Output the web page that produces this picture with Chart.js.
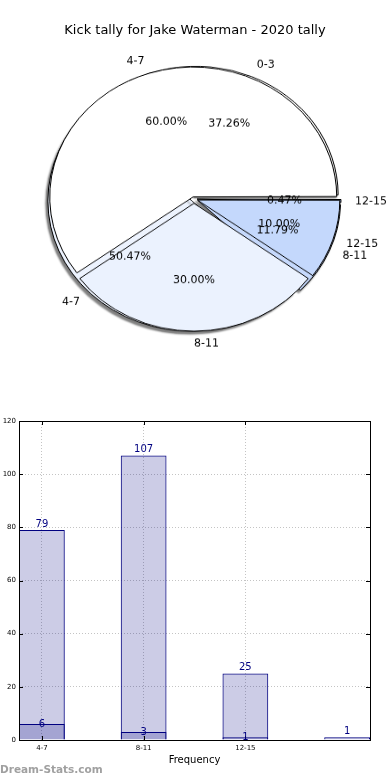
<!DOCTYPE html>
<html>
<head>
<meta charset="utf-8">
<script src="https://cdn.jsdelivr.net/npm/chart.js@4.4.1/dist/chart.umd.min.js"></script>
<style>
body { margin: 0; background: #fff; font-family: "DejaVu Sans", sans-serif; }
#wrap { position: relative; width: 390px; height: 780px; overflow: hidden; }
.pie { position: absolute; left: 0; top: 19px; transform: scaleY(0.905); transform-origin: 50% 50%; }
#pieA { z-index: 1; }
#pieB { z-index: 2; }
#bars { position: absolute; left: 0; top: 410px; }
#title { position: absolute; left: 0; top: 22px; width: 390px; text-align: center; font-size: 13px; line-height: 16px; z-index: 3; }
#mark { position: absolute; left: 0; top: 763px; font-size: 10.5px; font-weight: bold; color: #a0a0a0; z-index: 3; }
</style>
</head>
<body>
<div id="wrap">
    <div id="title">Kick tally for Jake Waterman - 2020 tally</div>
    <canvas id="pieA" class="pie" width="388" height="360"></canvas>
    <canvas id="pieB" class="pie" width="388" height="360"></canvas>
    <canvas id="bars" width="390" height="370"></canvas>
    <div id="mark">Dream-Stats.com</div>
</div>
<script>
// pie data (matplotlib order: counter-clockwise from 3 o'clock)
const allLabels = ['0-3', '4-7', '8-11', '12-15'];
const allCounts = [79, 107, 25, 1];
const seasonLabels = ['4-7', '8-11', '12-15'];
const seasonCounts = [6, 3, 1];

// bar data
const barLabels = ['4-7', '8-11', '12-15', ''];
const barTotals = [79, 107, 25, 1];
const barSeason = [6, 3, 1, null];

const ELLIPSE = 0.905;
const RADIUS = 141;

// chart.js moves an arc by offset/4*(1+fix); get an even shift in px
function explode(values, shift) {
    const total = values.reduce((a, b) => a + b, 0);
    return values.map(function(v) {
        const circ = v / total * 2 * Math.PI;
        const fix = 1 - Math.sin(Math.min(Math.PI, circ));
        return 4 * shift / (1 + fix);
    });
}

function rev(arr) { return arr.slice().reverse(); }

function drawText(ctx, text, x, y, align) {
    ctx.save();
    ctx.translate(x, y);
    ctx.scale(1, 1 / ELLIPSE);
    ctx.textAlign = align;
    ctx.textBaseline = 'middle';
    ctx.fillText(text, 0, 0);
    ctx.restore();
}

function drawPieLabels(ctx, chart) {
    const meta = chart.getDatasetMeta(0);
    const values = chart.data.datasets[0].data;
    const total = values.reduce((a, b) => a + b, 0);
    ctx.font = '11px "DejaVu Sans"';
    ctx.fillStyle = '#000';
    meta.data.forEach(function(arc, i) {
        const mid = (arc.startAngle + arc.endAngle) / 2;
        const circ = arc.endAngle - arc.startAngle;
        const fix = 1 - Math.sin(Math.min(Math.PI, circ));
        const e = (arc.options.offset || 0) / 4 * (1 + fix);
        const cx = Math.cos(mid), cy = Math.sin(mid);
        const r = arc.outerRadius;
        drawText(ctx, chart.data.labels[i], arc.x + cx * (e + 1.1 * r), arc.y + cy * (e + 1.1 * r), cx > 0 ? 'left' : 'right');
        const pct = (values[i] / total * 100).toFixed(2) + '%';
        drawText(ctx, pct, arc.x + cx * (e + 0.6 * r), arc.y + cy * (e + 0.6 * r), 'center');
    });
}

const shadowPlugin = {
    id: 'shadow',
    beforeDatasetsDraw(chart) {
        const ctx = chart.ctx;
        ctx.save();
        ctx.shadowColor = 'rgba(0,0,0,0.5)';
        ctx.shadowOffsetX = -2;
        ctx.shadowOffsetY = 3;
        ctx.shadowBlur = 2;
    },
    afterDatasetsDraw(chart) {
        chart.ctx.restore();
    }
};

function pieConfig(labels, values, colors, shift, plugins) {
    return {
        type: 'pie',
        data: {
            labels: rev(labels),
            datasets: [{
                data: rev(values),
                backgroundColor: rev(colors),
                borderColor: '#000',
                borderWidth: 1,
                offset: explode(rev(values), shift)
            }]
        },
        options: {
            responsive: false,
            animation: false,
            events: [],
            rotation: 90,
            radius: RADIUS,
            layout: { padding: 0 },
            plugins: { legend: { display: false }, tooltip: { enabled: false } }
        },
        plugins: plugins
    };
}

const chartA = new Chart(document.getElementById('pieA'),
    pieConfig(allLabels, allCounts, ['#ffffff', '#edf3fe', '#c6d9fc', '#8ea6d6'], 6, [shadowPlugin]));

const pieLabelPlugin = {
    id: 'pieLabels',
    afterDatasetsDraw(chart) {
        drawPieLabels(chart.ctx, chartA);
        drawPieLabels(chart.ctx, chart);
    }
};

new Chart(document.getElementById('pieB'),
    pieConfig(seasonLabels, seasonCounts, ['#ffffff', '#ebf2fe', '#c4d8fc'], 5, [pieLabelPlugin]));

// bar chart
const boxPlugin = {
    id: 'box',
    afterDatasetsDraw(chart) {
        const ctx = chart.ctx;
        const a = chart.chartArea;
        ctx.save();
        ctx.strokeStyle = '#000';
        ctx.lineWidth = 1;
        ctx.strokeRect(Math.round(a.left) + 0.5, Math.round(a.top) + 0.5, Math.round(a.right - a.left), Math.round(a.bottom - a.top));
        ctx.beginPath();
        chart.scales.y.ticks.forEach(function(t) {
            const y = Math.round(chart.scales.y.getPixelForValue(t.value)) + 0.5;
            ctx.moveTo(a.left, y); ctx.lineTo(a.left + 4, y);
            ctx.moveTo(a.right, y); ctx.lineTo(a.right - 4, y);
        });
        chart.scales.x.ticks.forEach(function(t) {
            const x = Math.round(chart.scales.x.getPixelForValue(t.value)) + 0.5;
            ctx.moveTo(x, a.bottom); ctx.lineTo(x, a.bottom - 4);
            ctx.moveTo(x, a.top); ctx.lineTo(x, a.top + 4);
        });
        ctx.stroke();
        ctx.restore();
    }
};

const valuePlugin = {
    id: 'values',
    afterDatasetsDraw(chart) {
        const ctx = chart.ctx;
        ctx.save();
        ctx.font = '10px "DejaVu Sans"';
        ctx.fillStyle = '#000080';
        ctx.textAlign = 'center';
        chart.data.datasets.forEach(function(ds, di) {
            chart.getDatasetMeta(di).data.forEach(function(bar, i) {
                const v = ds.data[i].y;
                if (v === null) return;
                if (di === 0) {
                    ctx.textBaseline = 'bottom';
                    ctx.fillText(String(v), bar.x, bar.y - 1);
                } else {
                    ctx.textBaseline = 'middle';
                    ctx.fillText(String(v), bar.x, bar.y);
                }
            });
        });
        ctx.restore();
    }
};

new Chart(document.getElementById('bars'), {
    type: 'bar',
    data: {
        datasets: [{
            data: barTotals.map((v, i) => ({ x: i, y: v })),
            backgroundColor: 'rgba(0,0,128,0.2)',
            borderColor: '#000080',
            borderWidth: 1,
            order: 1
        }, {
            data: barSeason.map((v, i) => ({ x: i, y: v })),
            backgroundColor: 'rgba(0,0,128,0.2)',
            borderColor: '#000080',
            borderWidth: 1,
            order: 0
        }]
    },
    options: {
        responsive: false,
        animation: false,
        events: [],
        grouped: false,
        categoryPercentage: 1,
        barPercentage: 0.45,
        layout: { padding: { top: 11, right: 20, left: 0, bottom: 0 } },
        plugins: { legend: { display: false }, tooltip: { enabled: false } },
        scales: {
            x: {
                type: 'linear',
                bounds: 'data',
                offset: false,
                min: -0.225,
                max: 3.225,
                afterBuildTicks: function(s) {
                    s.ticks = [0, 1, 2].map(v => ({ value: v }));
                },
                ticks: {
                    callback: v => barLabels[v],
                    font: { family: 'DejaVu Sans', size: 7 },
                    color: '#000',
                    padding: 4,
                    autoSkip: false,
                    maxRotation: 0
                },
                grid: { color: '#c4c4c4', drawTicks: false, offset: false },
                border: { display: false, dash: [1, 2] },
                title: {
                    display: true,
                    text: 'Frequency',
                    font: { family: 'DejaVu Sans', size: 10 },
                    color: '#000',
                    padding: { top: 0, bottom: 14 }
                },
                afterFit: function(s) { s.height = 40; }
            },
            y: {
                min: 0,
                max: 120,
                ticks: {
                    stepSize: 20,
                    font: { family: 'DejaVu Sans', size: 7 },
                    color: '#000',
                    padding: 3
                },
                grid: { color: '#c4c4c4', drawTicks: false },
                border: { display: false, dash: [1, 2] },
                afterFit: function(s) { s.width = 19; }
            }
        }
    },
    plugins: [boxPlugin, valuePlugin]
});
</script>
</body>
</html>
